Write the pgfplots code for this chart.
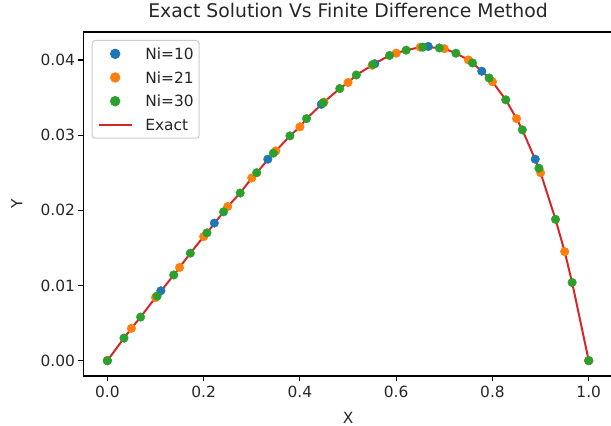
\documentclass[border=0pt]{standalone}
\usepackage{fontspec}
\setmainfont{DejaVu Sans}
\usepackage{pgfplots}
\pgfplotsset{compat=1.18}
\definecolor{tabblue}{HTML}{1F77B4}
\definecolor{taborange}{HTML}{FF7F0E}
\definecolor{tabgreen}{HTML}{2CA02C}
\definecolor{tabred}{HTML}{D62728}
\begin{document}
\begin{tikzpicture}
\begin{axis}[
  scale only axis, width=529.5bp, height=344bp,
  xmin=-0.05, xmax=1.05, ymin=-0.00204, ymax=0.04372,
  axis line style={line width=1.1bp},
  every tick/.style={black, line width=1.1bp},
  major tick length=4.9bp, tick align=outside, tick pos=left,
  xtick={0,0.2,0.4,0.6,0.8,1}, ytick={0,0.01,0.02,0.03,0.04},
  scaled y ticks=false, scaled x ticks=false,
  /pgf/number format/assume math mode=true,
  xticklabel={\pgfmathprintnumber[fixed,fixed zerofill,precision=1]{\tick}},
  yticklabel={\pgfmathprintnumber[fixed,fixed zerofill,precision=2]{\tick}},
  tick label style={font=\fontsize{15.4bp}{18bp}\selectfont, color=black!85},
  xticklabel style={yshift=-1.5bp},
  xlabel={X}, ylabel={Y},
  xlabel style={at={(axis description cs:0.5,-0.1215)}, anchor=center, font=\fontsize{15.4bp}{18bp}\selectfont, color=black!85},
  ylabel style={at={(axis description cs:-0.1258,0.5)}, anchor=center, font=\fontsize{15.4bp}{18bp}\selectfont, color=black!85},
  title={Exact Solution Vs Finite Difference Method},
  title style={at={(axis description cs:0.5,1.0465)}, anchor=center, font=\fontsize{18.8bp}{22bp}\selectfont, color=black!85},
  legend style={at={(axis description cs:0,1)}, anchor=north west, xshift=8.4bp, yshift=-8bp,
    draw=black!20, line width=1bp, rounded corners=3bp, fill=white, fill opacity=0.8, text opacity=1,
    font=\fontsize{15.4bp}{18bp}\selectfont, text=black!85,
    inner xsep=5.5bp, inner ysep=7.7bp, row sep=12.5bp, column sep=12.7bp,
    nodes={inner sep=0bp, text height=11.2bp, text depth=0bp}},
  legend cell align=left,
]
\addplot[only marks, mark=*, mark size=4.3bp, color=tabblue,
  legend image code/.code={\fill[tabblue, fill opacity=1] (16.5bp,0bp) circle (4.7bp); \path (0bp,0bp) (33bp,0bp);}]
  coordinates {
  (0,0) (0.1111,0.0093) (0.2222,0.0183) (0.3333,0.0268) (0.4444,0.0341)
  (0.5556,0.0395) (0.6667,0.0418) (0.7778,0.0385) (0.8889,0.0268) (1,0)};
\addlegendentry{Ni=10}
\addplot[only marks, mark=*, mark size=4.3bp, color=taborange,
  legend image code/.code={\fill[taborange, fill opacity=1] (16.5bp,0bp) circle (4.7bp); \path (0bp,0bp) (33bp,0bp);}]
  coordinates {
  (0,0) (0.05,0.0043) (0.10,0.0084) (0.15,0.0124) (0.20,0.0165) (0.25,0.0205)
  (0.30,0.0243) (0.35,0.0279) (0.40,0.0311) (0.45,0.0344) (0.50,0.0370)
  (0.55,0.0393) (0.60,0.0409) (0.65,0.0417) (0.70,0.0415) (0.75,0.0400)
  (0.80,0.0371) (0.85,0.0322) (0.90,0.0250) (0.95,0.0145) (1,0)};
\addlegendentry{Ni=21}
\addplot[only marks, mark=*, mark size=4.3bp, color=tabgreen,
  legend image code/.code={\fill[tabgreen, fill opacity=1] (16.5bp,0bp) circle (4.7bp); \path (0bp,0bp) (33bp,0bp);}]
  coordinates {
  (0,0) (0.0345,0.0030) (0.0690,0.0058) (0.1034,0.0086) (0.1379,0.0114)
  (0.1724,0.0143) (0.2069,0.0170) (0.2414,0.0198) (0.2759,0.0223) (0.3103,0.0250)
  (0.3448,0.0276) (0.3793,0.0299) (0.4138,0.0322) (0.4483,0.0343) (0.4828,0.0362)
  (0.5172,0.0380) (0.5517,0.0394) (0.5862,0.0406) (0.6207,0.0413) (0.6552,0.0417)
  (0.6897,0.0416) (0.7241,0.0409) (0.7586,0.0396) (0.7931,0.0376) (0.8276,0.0347)
  (0.8621,0.0307) (0.8966,0.0256) (0.9310,0.0188) (0.9655,0.0104) (1,0)};
\addlegendentry{Ni=30}
\addplot[color=tabred, line width=2bp, no marks,
  legend image code/.code={\draw[tabred, line width=2bp, draw opacity=1] (0bp,0bp) -- (33bp,0bp);}]
  coordinates {
  (0,0) (0.0345,0.0030) (0.05,0.0043) (0.0690,0.0058) (0.10,0.0084) (0.1034,0.0086)
  (0.1379,0.0114) (0.15,0.0124) (0.1724,0.0143) (0.20,0.0165) (0.2069,0.0170)
  (0.2414,0.0198) (0.25,0.0205) (0.2759,0.0223) (0.30,0.0243) (0.3103,0.0250)
  (0.3448,0.0276) (0.35,0.0279) (0.3793,0.0299) (0.40,0.0311) (0.4138,0.0322)
  (0.4483,0.0343) (0.45,0.0344) (0.4828,0.0362) (0.50,0.0370) (0.5172,0.0380)
  (0.55,0.0393) (0.5517,0.0394) (0.5862,0.0406) (0.60,0.0409) (0.6207,0.0413)
  (0.65,0.0417) (0.6552,0.0417) (0.6897,0.0416) (0.70,0.0415) (0.7241,0.0409)
  (0.75,0.0400) (0.7586,0.0396) (0.7931,0.0376) (0.80,0.0371) (0.8276,0.0347)
  (0.85,0.0322) (0.8621,0.0307) (0.8966,0.0256) (0.90,0.0250) (0.9310,0.0188)
  (0.95,0.0145) (0.9655,0.0104) (1,0)};
\addlegendentry{Exact}
\end{axis}
\pgfresetboundingbox
\path[use as bounding box] ([xshift=-83.3bp,yshift=-50bp]current axis.south west) rectangle ++(611bp,426bp);
\end{tikzpicture}
\end{document}
